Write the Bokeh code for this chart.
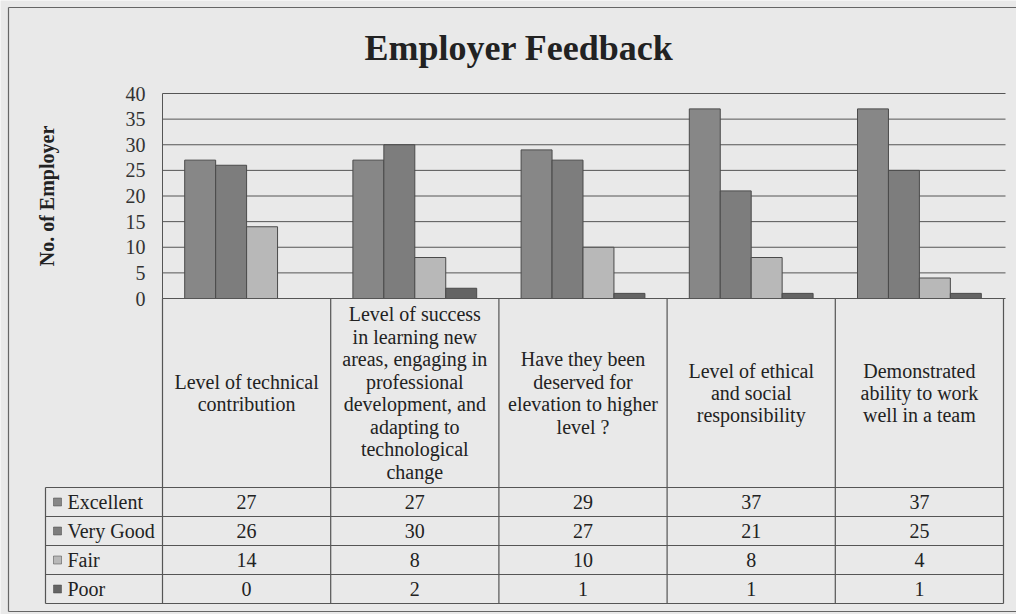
from bokeh.plotting import figure
from bokeh.models import Range1d, FixedTicker, ColumnDataSource
from bokeh.transform import dodge
from bokeh.embed import file_html
from bokeh.resources import INLINE
from bokeh.core.properties import value

# ---------------- data ----------------
categories = [
    "Level of technical\ncontribution",
    "Level of success\nin learning new\nareas, engaging in\nprofessional\ndevelopment, and\nadapting to\ntechnological\nchange",
    "Have they been\ndeserved for\nelevation to higher\nlevel ?",
    "Level of ethical\nand social\nresponsibility",
    "Demonstrated\nability to work\nwell in a team",
]
series = ["Excellent", "Very Good", "Fair", "Poor"]
excellent = [27, 27, 29, 37, 37]
very_good = [26, 30, 27, 21, 25]
fair = [14, 8, 10, 8, 4]
poor = [0, 2, 1, 1, 1]
y_ticks = [0, 5, 10, 15, 20, 25, 30, 35, 40]

title_text = "Employer Feedback"
y_label = "No. of Employer"

# ---------------- style / layout (pixels) ----------------
BG = "#e9e9e9"
LINE = "#555555"
TXT = "#222222"
FONT = "Liberation Serif"
colors = ["#878787", "#7d7d7d", "#b8b8b8", "#646464"]

W, H = 1016, 614
FRAME_L, FRAME_R, FRAME_T, FRAME_B = 0, 1016, 0, 614
LEG_L = 45                         # left edge of legend column
CAT_L, CAT_R = 162, 1003           # category area (plot + table columns)
ZERO_PX, TOP_PX = 298, 93          # pixel rows of value 0 and value 40
HDR_PX, ROW_PX = 189, 29           # table header height, data row height
TITLE_X, TITLE_Y = 518.5, 47       # title anchor
BORDER_L, BORDER_T, BORDER_B = 8, 7, 611

n = len(categories)
nrows = len(series)
cat_px = (CAT_R - CAT_L) / n
unit_px = (ZERO_PX - TOP_PX) / y_ticks[-1]
leg_w = (CAT_L - LEG_L) / cat_px


def px_x(px):
    return (px - CAT_L) / cat_px


def px_y(py):
    return ZERO_PX - py


values = [excellent, very_good, fair, poor]
keys = ["s0", "s1", "s2", "s3"]
src = ColumnDataSource(dict(x=[i + 0.5 for i in range(n)],
                            **{k: v for k, v in zip(keys, values)}))

p = figure(width=W, height=H,
           x_range=Range1d(px_x(FRAME_L), px_x(FRAME_R)),
           y_range=Range1d(-(FRAME_B - ZERO_PX) / unit_px,
                           y_ticks[-1] + (TOP_PX - FRAME_T) / unit_px),
           output_backend="svg", toolbar_location=None, title_location=None,
           min_border_left=0, min_border_right=0, min_border_top=0, min_border_bottom=0,
           background_fill_color=BG, border_fill_color=BG, outline_line_color=None,
           x_axis_location=None)
p.extra_y_ranges = {"tbl": Range1d(px_y(FRAME_B), px_y(FRAME_T))}
p.grid.visible = False

# outer border of the chart (left, top, bottom)
p.segment(x0=[px_x(BORDER_L), px_x(BORDER_L), px_x(BORDER_L)],
          y0=[px_y(BORDER_T), px_y(BORDER_T), px_y(BORDER_B)],
          x1=[px_x(BORDER_L), px_x(W), px_x(W)],
          y1=[px_y(BORDER_B), px_y(BORDER_T), px_y(BORDER_B)],
          line_color="#666666", line_width=1.2, y_range_name="tbl")

# title
p.text(x=[px_x(TITLE_X)], y=[px_y(TITLE_Y)], text=[title_text],
       text_align="center", text_baseline="alphabetic", text_font=value(FONT),
       text_font_style="bold", text_font_size="36px", text_color=TXT,
       y_range_name="tbl")

# horizontal grid lines of the value area
p.segment(x0=[0] * len(y_ticks), x1=[px_x(1005)] * len(y_ticks),
          y0=y_ticks, y1=y_ticks, line_color=LINE, line_width=1)

# bars
bar_w = 0.184
offsets = [(-1.5 + j) * bar_w for j in range(4)]
for j, k in enumerate(keys):
    p.vbar(x=dodge("x", offsets[j]), top=k, width=bar_w, bottom=0,
           source=src, fill_color=colors[j], line_color="#4a4a4a", line_width=1)

# y axis drawn at the start of the category area
yax = p.yaxis[0]
yax.fixed_location = 0
yax.bounds = (y_ticks[0], y_ticks[-1])
yax.ticker = FixedTicker(ticks=y_ticks)
yax.major_tick_line_color = None
yax.major_tick_out = 0
yax.major_tick_in = 0
yax.minor_tick_line_color = None
yax.axis_line_color = LINE
yax.major_label_text_font = FONT
yax.major_label_text_font_size = "20px"
yax.major_label_text_color = "#333333"
yax.major_label_standoff = 17
yax.axis_label = y_label
yax.axis_label_text_font = FONT
yax.axis_label_text_font_style = "bold"
yax.axis_label_text_font_size = "20px"
yax.axis_label_text_color = TXT
yax.axis_label_standoff = 65

# ---------------- data table ----------------
row_top = [-HDR_PX - ROW_PX * r for r in range(nrows + 1)]
vx0, vy0, vx1, vy1 = [], [], [], []
for i in range(n + 1):
    vx0.append(i); vx1.append(i); vy0.append(row_top[-1]); vy1.append(0)
vx0.append(-leg_w); vx1.append(-leg_w); vy0.append(row_top[-1]); vy1.append(row_top[0])
vx0.append(0); vx1.append(n); vy0.append(0); vy1.append(0)
for yy in row_top:
    vx0.append(-leg_w); vx1.append(n); vy0.append(yy); vy1.append(yy)
p.segment(x0=vx0, y0=vy0, x1=vx1, y1=vy1, line_color=LINE, line_width=1.2,
          y_range_name="tbl")

# category headers
p.text(x=[i + 0.5 for i in range(n)], y=[-HDR_PX / 2] * n, text=categories,
       text_align="center", text_baseline="middle", text_font=value(FONT),
       text_font_size="20px", text_color=TXT, text_line_height=1.02,
       y_range_name="tbl")

# legend column
row_mid = [-HDR_PX - ROW_PX * (r + 0.5) for r in range(nrows)]
p.scatter(x=[-leg_w + 12 / cat_px] * nrows, y=row_mid, marker="square", size=8,
          fill_color=colors, line_color="#444444", line_width=0.5, y_range_name="tbl")
p.text(x=[-leg_w] * nrows, y=row_mid, text=series, x_offset=22,
       text_align="left", text_baseline="middle", text_font=value(FONT),
       text_font_size="20px", text_color=TXT, y_range_name="tbl")

# values
tx, ty, tt = [], [], []
for r, vals in enumerate(values):
    for i, v in enumerate(vals):
        tx.append(i + 0.5); ty.append(row_mid[r]); tt.append(str(v))
p.text(x=tx, y=ty, text=tt, text_align="center", text_baseline="middle",
       text_font=value(FONT), text_font_size="20px", text_color=TXT,
       y_range_name="tbl")

open("out.html", "w").write(file_html(p, INLINE))
